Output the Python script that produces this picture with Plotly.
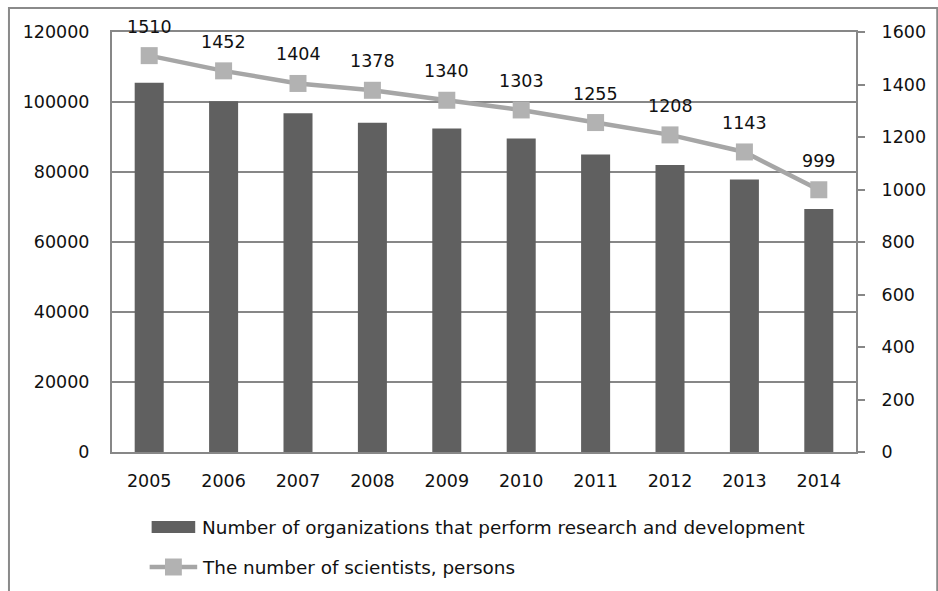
import plotly.graph_objects as go

years = ["2005", "2006", "2007", "2008", "2009", "2010", "2011", "2012", "2013", "2014"]
organizations = [105512, 100245, 96820, 94065, 92403, 89564, 84969, 82032, 77853, 69404]
scientists = [1510, 1452, 1404, 1378, 1340, 1303, 1255, 1208, 1143, 999]
legend_labels = ["Number of organizations that perform research and development",
                 "The number of scientists, persons"]
left_ticks = [0, 20000, 40000, 60000, 80000, 100000, 120000]
right_ticks = [0, 200, 400, 600, 800, 1000, 1200, 1400, 1600]

FONT = "DejaVu Sans"
GRID = "#878787"
BAR_C = "#606060"
LINE_C = "#A6A6A6"
MARK_C = "#B2B2B2"

W, H = 938, 591
L, R, T, B = 112, 75, 32, 139
pw, ph = W - L - R, H - T - B

def px_x(x):
    return (x - L) / pw

def px_y(y):
    return (H - B - y) / ph

fig = go.Figure()
fig.add_trace(go.Bar(x=years, y=organizations, marker=dict(color=BAR_C, line=dict(width=0)),
                     name=legend_labels[0], showlegend=False, yaxis="y"))
fig.add_trace(go.Scatter(x=years, y=scientists, mode="lines+markers", yaxis="y2",
                         line=dict(color=LINE_C, width=4.5),
                         marker=dict(symbol="square", size=17, color=MARK_C),
                         name=legend_labels[1], showlegend=False))

annotations = []
for i, v in enumerate(scientists):
    annotations.append(dict(x=i, y=v, xref="x", yref="y2", text=str(v), showarrow=False,
                            yshift=29, font=dict(family=FONT, size=17.5, color="#111")))

# custom legend
leg_y1, leg_y2 = 527, 567
shapes = [
    # outer chart border
    dict(type="rect", xref="paper", yref="paper", x0=px_x(8), x1=px_x(945), y0=px_y(600), y1=px_y(8),
         line=dict(color="#8a8a8a", width=2), layer="below"),
    dict(type="rect", xref="paper", yref="paper", x0=px_x(152), x1=px_x(196), y0=px_y(leg_y1 + 6), y1=px_y(leg_y1 - 6),
         fillcolor=BAR_C, line=dict(width=0)),
    dict(type="line", xref="paper", yref="paper", x0=px_x(150), x1=px_x(198), y0=px_y(leg_y2), y1=px_y(leg_y2),
         line=dict(color=LINE_C, width=4.5)),
    dict(type="rect", xref="paper", yref="paper", x0=px_x(165.5), x1=px_x(182.5), y0=px_y(leg_y2 + 8.5), y1=px_y(leg_y2 - 8.5),
         fillcolor=MARK_C, line=dict(width=0)),
]
for lbl, yy in zip(legend_labels, [leg_y1, leg_y2]):
    annotations.append(dict(x=px_x(201), y=px_y(yy), xref="paper", yref="paper", text=lbl, showarrow=False,
                            xanchor="left", yanchor="middle", font=dict(family=FONT, size=18.4, color="#111")))

fig.update_layout(
    width=W, height=H,
    margin=dict(l=L, r=R, t=T, b=B, pad=0),
    paper_bgcolor="white", plot_bgcolor="white",
    font=dict(family=FONT, size=17.5, color="#111"),
    bargap=0.61,
    showlegend=False,
    xaxis=dict(type="category", range=[-0.5, len(years) - 0.5], showline=True, linecolor=GRID, linewidth=2,
               mirror=True, ticks="", showgrid=False, ticklabelstandoff=12, tickfont=dict(size=17.5)),
    yaxis=dict(range=[0, 120000], tickvals=left_ticks, ticktext=[str(t) for t in left_ticks],
               showgrid=True, gridcolor=GRID, gridwidth=2, showline=True, linecolor=GRID, linewidth=2,
               ticks="", ticklabelstandoff=17, zeroline=False),
    yaxis2=dict(range=[0, 1600], tickvals=right_ticks, ticktext=[str(t) for t in right_ticks],
                overlaying="y", side="right", showgrid=False, showline=True, linecolor=GRID, linewidth=2,
                ticks="outside", ticklen=7, tickwidth=2, tickcolor=GRID, ticklabelstandoff=13, zeroline=False),
    annotations=annotations,
    shapes=shapes,
)

fig.write_html("out.html", config={"displayModeBar": False},
               post_script="document.body.style.margin='0';")
